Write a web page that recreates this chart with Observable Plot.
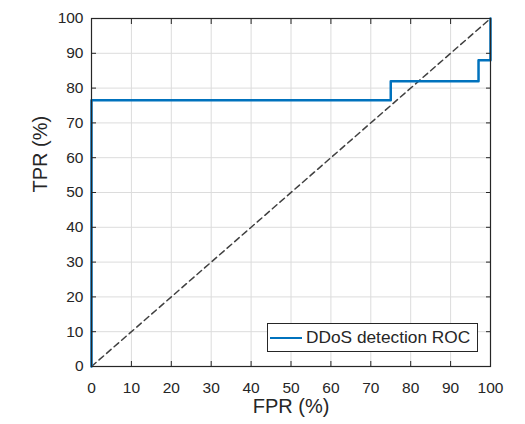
<!DOCTYPE html>
<html>
<head>
<meta charset="utf-8">
<script src="https://cdn.jsdelivr.net/npm/d3@7"></script>
<script src="https://cdn.jsdelivr.net/npm/@observablehq/plot@0.6"></script>
<style>
  html, body { margin: 0; padding: 0; background: #fff; }
  #wrap { position: relative; width: 525px; height: 424px; font-family: "Liberation Sans", Arial, sans-serif; }
  #legend {
    position: absolute; left: 267px; top: 323px; width: 211px; height: 29px;
    border: 1px solid #262626; background: #fff; box-sizing: border-box;
    display: flex; align-items: center; font-size: 17.3px; color: #262626; white-space: nowrap;
  }
  #legend .swatch { width: 32px; height: 0; border-top: 2.5px solid #0072BD; margin: 0 4px 0 2px; }
</style>
</head>
<body>
<div id="wrap"></div>
<script>
// ROC curve vertices (FPR %, TPR %)
const fpr = [0, 0, 75, 75, 97, 97, 100, 100];
const tpr = [0, 76.5, 76.5, 82, 82, 88, 88, 100];
// chance diagonal
const chanceX = [0, 100];
const chanceY = [0, 100];
const ticks = [0, 10, 20, 30, 40, 50, 60, 70, 80, 90, 100];
const seriesName = "DDoS detection ROC";

const roc = fpr.map((x, i) => ({x, y: tpr[i]}));
const chance = chanceX.map((x, i) => ({x, y: chanceY[i]}));
const ink = "#262626";

const chart = Plot.plot({
  width: 525,
  height: 424,
  marginLeft: 91,
  marginRight: 35,
  marginTop: 18,
  marginBottom: 58,
  style: {fontFamily: "Liberation Sans, Arial, sans-serif", fontSize: "15px", color: ink, background: "#fff"},
  x: {domain: [0, 100], ticks},
  y: {domain: [0, 100], ticks},
  marks: [
    Plot.gridX(ticks, {stroke: "#dcdcdc", strokeOpacity: 1}),
    Plot.gridY(ticks, {stroke: "#dcdcdc", strokeOpacity: 1}),
    Plot.line(chance, {x: "x", y: "y", stroke: "#404040", strokeWidth: 1.5, strokeDasharray: "6,4"}),
    Plot.line(roc, {x: "x", y: "y", stroke: "#0072BD", strokeWidth: 2.5}),
    Plot.frame({stroke: ink, strokeWidth: 1.2}),
    // inward tick marks on all four sides
    Plot.axisX(ticks, {anchor: "bottom", tickSize: -5, text: null, label: null, stroke: ink}),
    Plot.axisX(ticks, {anchor: "top", tickSize: -5, text: null, label: null, stroke: ink}),
    Plot.axisY(ticks, {anchor: "left", tickSize: -5, text: null, label: null, stroke: ink}),
    Plot.axisY(ticks, {anchor: "right", tickSize: -5, text: null, label: null, stroke: ink}),
    // tick labels
    Plot.axisX(ticks, {anchor: "bottom", tickSize: 0, tickPadding: 15, fontSize: 15.5, label: null, fill: ink}),
    Plot.axisY(ticks, {anchor: "left", tickSize: 0, tickPadding: 8, fontSize: 15.5, label: null, fill: ink}),
    // axis titles
    Plot.text(["FPR (%)"], {frameAnchor: "bottom", dy: 46, fontSize: 20, fill: ink}),
    Plot.text(["TPR (%)"], {frameAnchor: "left", dx: -51, rotate: -90, fontSize: 20, fill: ink})
  ]
});

const wrap = document.getElementById("wrap");
wrap.appendChild(chart);
const legend = document.createElement("div");
legend.id = "legend";
legend.innerHTML = `<span class="swatch"></span><span></span>`;
legend.lastChild.textContent = seriesName;
wrap.appendChild(legend);
</script>
</body>
</html>
